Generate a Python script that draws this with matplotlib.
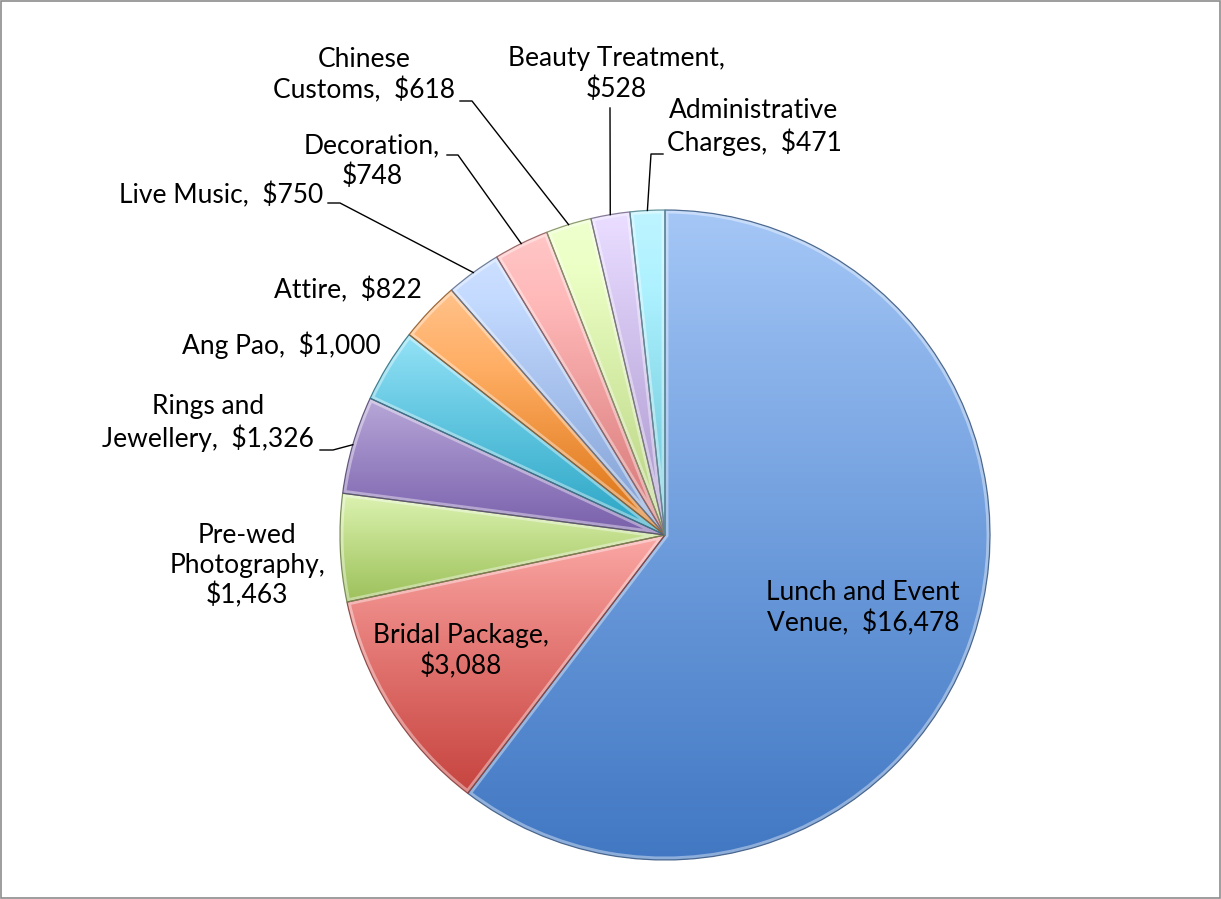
import matplotlib
matplotlib.use("Agg")
import matplotlib.pyplot as plt
import numpy as np
import colorsys
from matplotlib.colors import to_rgb
from matplotlib.patches import Rectangle, PathPatch

# ---------------- data ----------------
categories = ["Lunch and Event Venue", "Bridal Package", "Pre-wed Photography",
              "Rings and Jewellery", "Ang Pao", "Attire", "Live Music",
              "Decoration", "Chinese Customs", "Beauty Treatment",
              "Administrative Charges"]
values = [16478, 3088, 1463, 1326, 1000, 822, 750, 748, 618, 528, 471]
# how each category name is wrapped in its label
wrapped_names = ["Lunch and Event\nVenue", "Bridal Package,\n", "Pre-wed\nPhotography,\n",
                 "Rings and\nJewellery", "Ang Pao", "Attire", "Live Music",
                 "Decoration,\n", "Chinese\nCustoms", "Beauty Treatment,\n",
                 "Administrative\nCharges"]

# ---------------- style ----------------
base_colors = ["#6e9ee0", "#e4716d", "#bedd84", "#9882c4", "#58c4e0", "#f89c48",
               "#a6c2f0", "#f4a0a0", "#d8f0a8", "#cbbaea", "#94e4f4"]
W, H = 1221, 899
cx, cy, R = 665, 535, 325

# label centres (pixel layout)
label_pos = [(863, 608), (461, 651), (247, 566), (208, 423), (281, 345),
             (348, 290), (221, 195), (372, 161), (364, 75), (616, 74), (754, 127)]
# leader line start and elbow (pixel layout); None = no leader
leaders = {3: (320, 450, 333), 6: (328, 203, 340), 7: (447, 155, 458),
           8: (460, 101, 472), 9: (610, 108, None), 10: (663, 154, 651)}

FONT = "Lato"
FS = 19


def make_label(name, v):
    money = f"${v:,}"
    if name.endswith("\n"):
        return name + money
    return f"{name},  {money}"


def grad_color(c, t):
    """t=0 top (lighter, less saturated), t=1 bottom (darker, more saturated)."""
    h, s, v = colorsys.rgb_to_hsv(*to_rgb(c))
    sf = 0.65 + (1.3 - 0.65) * t
    vf = 1.10 + (0.87 - 1.10) * t
    return colorsys.hsv_to_rgb(h, min(s * sf, 1.0), min(v * vf, 1.0))


def darker(c, k=0.6):
    return tuple(np.array(to_rgb(c)) * k)


fig = plt.figure(figsize=(W / 100, H / 100), dpi=100)
ax = fig.add_axes([0, 0, 1, 1])

wedges, _ = ax.pie(values, colors=base_colors, startangle=-90, counterclock=True,
                   center=(cx, cy), radius=R, frame=True,
                   wedgeprops=dict(linewidth=0))

for w, c in zip(wedges, base_colors):
    ext = w.get_path().get_extents()
    x0, y0, x1, y1 = ext.x0, ext.y0, ext.x1, ext.y1
    t = np.linspace(0, 1, 200)
    cols = np.array([grad_color(c, ti) for ti in t]).reshape(200, 1, 3)
    im = ax.imshow(cols, extent=(x0, x1, y1, y0), origin="upper",
                   aspect="auto", interpolation="bilinear", zorder=2)
    im.set_clip_path(w)
    # bevel highlight inside the edge
    hl = PathPatch(w.get_path(), fc="none", ec="white", alpha=0.4, lw=5,
                   zorder=3, transform=ax.transData)
    ax.add_patch(hl)
    hl.set_clip_path(w)
    ol = PathPatch(w.get_path(), fc="none", ec=darker(c), lw=0.9, alpha=0.9,
                   zorder=4, transform=ax.transData)
    ax.add_patch(ol)

total = sum(values)
cum = np.cumsum([0] + values[:-1])
for i, (name, v) in enumerate(zip(wrapped_names, values)):
    x, y = label_pos[i]
    ax.text(x, y, make_label(name, v), ha="center", va="center",
            fontsize=FS, family=FONT, linespacing=1.22, color="black", zorder=6)
    if i in leaders:
        mid = cum[i] + v / 2
        ang = np.deg2rad(-90 + 360 * mid / total)
        px, py = cx + R * np.cos(ang), cy + R * np.sin(ang)
        sx, sy, ex = leaders[i]
        if ex is None:
            ax.plot([sx, px], [sy, py], color="black", lw=1, zorder=5)
        else:
            ax.plot([sx, ex, px], [sy, sy, py], color="black", lw=1, zorder=5)

ax.add_patch(Rectangle((0.5, 0.5), W - 2, H - 2, fill=False, ec="#8c8c8c",
                       lw=1.2, zorder=7))
ax.set_xlim(0, W)
ax.set_ylim(H, 0)
ax.set_aspect("auto")
ax.axis("off")
fig.savefig("out.png", dpi=100)
